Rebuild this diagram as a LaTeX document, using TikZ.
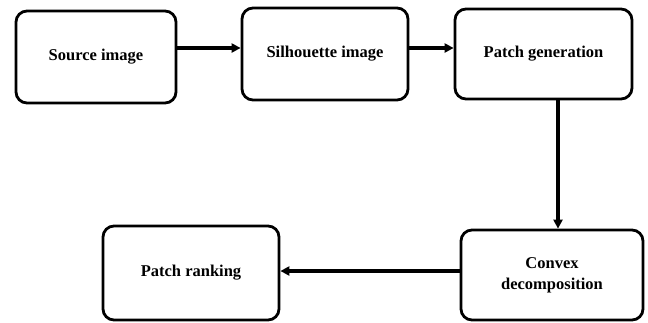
\documentclass[tikz,border=0pt]{standalone}
\usepackage{fontspec}
\setmainfont{Liberation Serif}
\usetikzlibrary{arrows.meta}

\tikzset{
  stage/.style = {draw, line width=2.8pt, rounded corners=11pt, align=center,
                  inner sep=0pt, font=\fontsize{16.5}{21}\selectfont\bfseries},
  flow/.style  = {line width=3.6pt, -{Triangle[length=9pt,width=9pt]}}
}

\begin{document}
\begin{tikzpicture}[x=1pt, y=-1pt]
\useasboundingbox (0,0) rectangle (648,322);
% stages
\node[stage, minimum width=160pt, minimum height=92pt] (src)  at (96,57)    {Source image};
\node[stage, minimum width=166pt, minimum height=92pt] (sil)  at (325,54)   {Silhouette image};
\node[stage, minimum width=177pt, minimum height=90pt] (gen)  at (543.5,54) {Patch generation};
\node[stage, minimum width=182pt, minimum height=90pt] (cvx)  at (552,275)  {Convex\\decomposition};
\node[stage, minimum width=176pt, minimum height=94pt] (rank) at (191,273)  {Patch ranking};
% connectors
\draw[flow] ([yshift=9pt]src.east) -- ([yshift=9pt]src.east -| sil.west);
\draw[flow] ([yshift=6pt]sil.east) -- ([yshift=6pt]sil.east -| gen.west);
\draw[flow] ([xshift=14.5pt]gen.south) -- ([xshift=14.5pt]gen.south |- cvx.north);
\draw[flow] ([yshift=4pt]cvx.west) -- ([yshift=4pt]cvx.west -| rank.east);
\end{tikzpicture}
\end{document}
